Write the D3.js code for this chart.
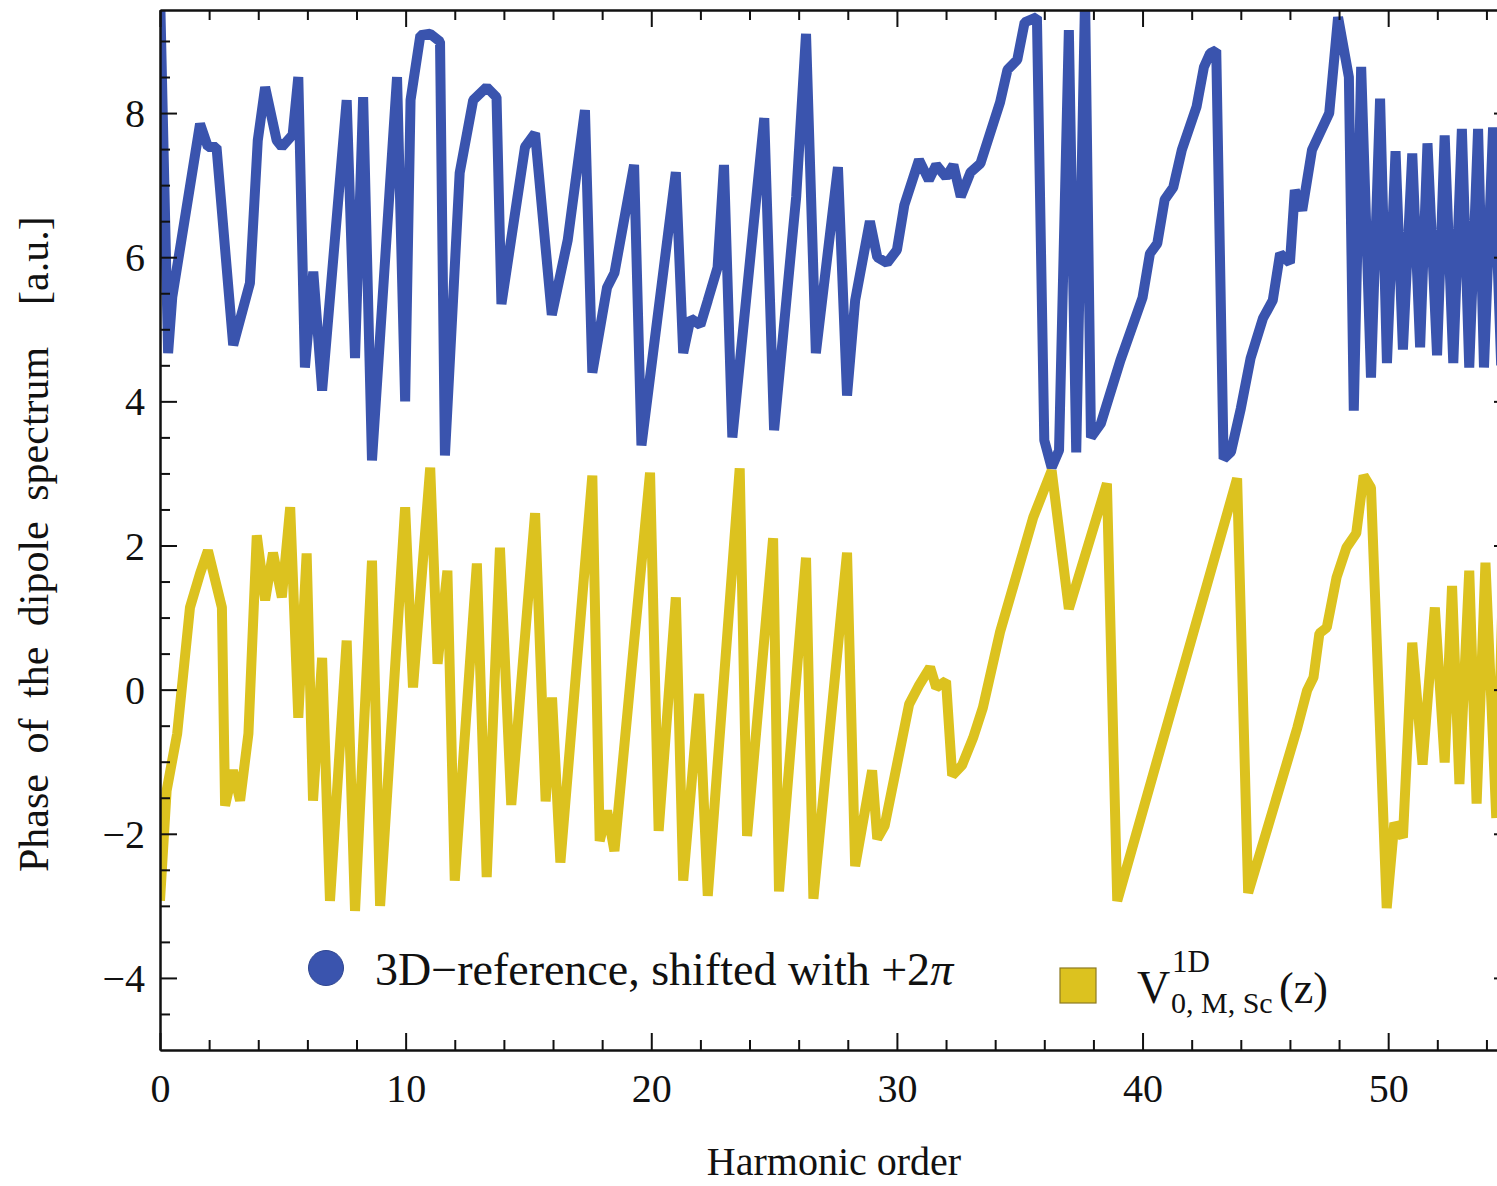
<!DOCTYPE html>
<html>
<head>
<meta charset="utf-8">
<script src="https://cdn.jsdelivr.net/npm/d3@7"></script>
<style>
  html, body { margin: 0; padding: 0; background: #fff; }
  svg { display: block; }
  text { font-family: "Liberation Serif", "Times New Roman", serif; fill: #111; }
</style>
</head>
<body>
<svg id="chart" width="1497" height="1186"></svg>
<script>
// ---------------- data ----------------
const xTicks = [0, 10, 20, 30, 40, 50];
const yTicks = [-4, -2, 0, 2, 4, 6, 8];

const seriesNames = ["3D\u2212reference, shifted with +2", "V"];

// 3D reference (shifted by +2π) — blue
const blueX = [0, 0.33, 0.5, 1.63, 1.95, 2.3, 2.98, 3.66, 3.98, 4.28, 4.75, 4.96, 5.4, 5.63, 5.9, 6.24, 6.6,
  7.6, 7.94, 8.27, 8.63, 9.65, 9.98, 10.2, 10.6, 11.0, 11.4, 11.6, 12.2, 12.75, 13.3, 13.7, 13.9,
  14.86, 15.27, 15.95, 16.6, 17.3, 17.6, 18.2, 18.5, 19.3, 19.6, 21.0, 21.3, 21.6, 22.0, 22.3, 22.7,
  22.96, 23.3, 24.6, 25.0, 25.9, 26.3, 26.7, 27.6, 27.97, 28.3, 28.9, 29.2, 29.6, 30.0, 30.3, 30.9,
  31.3, 31.6, 32.0, 32.3, 32.6, 33.0, 33.4, 34.2, 34.5, 34.9, 35.2, 35.7, 36.0, 36.3, 36.6, 37.0,
  37.3, 37.66, 37.9, 38.3, 39.1, 40.0, 40.3, 40.6, 40.9, 41.25, 41.6, 42.2, 42.5, 42.75, 43.0, 43.3,
  43.6, 44.0, 44.4, 44.9, 45.3, 45.6, 46.0, 46.2, 46.5, 46.9, 47.6, 47.96, 48.4, 48.6, 48.9, 49.3,
  49.67, 49.95, 50.3, 50.6, 50.98, 51.3, 51.6, 51.99, 52.3, 52.65, 53.0, 53.3, 53.66, 53.9, 54.27, 54.6];
const blueY = [9.7, 4.67, 5.45, 7.85, 7.53, 7.53, 4.78, 5.64, 7.62, 8.36, 7.62, 7.53, 7.7, 8.5, 4.47, 5.8, 4.15,
  8.18, 4.6, 8.22, 3.18, 8.5, 4.0, 8.18, 9.08, 9.1, 8.99, 3.25, 7.17, 8.18, 8.36, 8.22, 5.35,
  7.53, 7.72, 5.2, 6.24, 8.04, 4.4, 5.58, 5.78, 7.28, 3.39, 7.18, 4.67, 5.15, 5.06, 5.4, 5.86,
  7.28, 3.5, 7.93, 3.6, 6.84, 9.1, 4.67, 7.25, 4.08, 5.4, 6.5, 6.0, 5.92, 6.1, 6.72, 7.35,
  7.07, 7.28, 7.11, 7.28, 6.84, 7.18, 7.3, 8.15, 8.6, 8.74, 9.26, 9.33, 3.46, 3.08, 3.32, 9.15,
  3.29, 9.6, 3.5, 3.69, 4.57, 5.44, 6.05, 6.19, 6.8, 6.97, 7.49, 8.09, 8.64, 8.83, 8.87, 3.2,
  3.3, 3.9, 4.6, 5.15, 5.4, 6.05, 5.92, 6.93, 6.65, 7.49, 8.0, 9.33, 8.5, 3.87, 8.64, 4.33,
  8.2, 4.53, 7.47, 4.72, 7.44, 4.75, 7.58, 4.64, 7.69, 4.53, 7.78, 4.47, 7.78, 4.47, 7.8, 4.5];

// V^{1D}_{0,M,Sc}(z) — yellow
const yellowX = [0, 0.27, 0.7, 1.22, 1.63, 1.95, 2.52, 2.65, 2.97, 3.26, 3.6, 3.94, 4.28, 4.6, 4.96, 5.3, 5.63,
  5.97, 6.23, 6.6, 6.92, 7.6, 7.94, 8.63, 8.96, 9.98, 10.3, 11.0, 11.3, 11.7, 12.0, 12.9, 13.3,
  13.84, 14.3, 15.27, 15.7, 15.96, 16.3, 17.6, 17.9, 18.2, 18.5, 19.95, 20.3, 21.0, 21.3, 21.95, 22.3,
  23.6, 23.9, 24.96, 25.2, 26.3, 26.6, 27.97, 28.3, 28.99, 29.2, 29.5, 30.5, 30.9, 31.35, 31.6, 32.0,
  32.25, 32.65, 33.1, 33.5, 34.2, 35.55, 36.3, 37.0, 38.55, 38.97, 43.85, 44.3, 45.9, 46.3, 46.7, 46.96,
  47.2, 47.5, 47.9, 48.3, 48.7, 49.0, 49.3, 49.94, 50.25, 50.6, 50.98, 51.4, 51.9, 52.3, 52.6, 52.9,
  53.3, 53.6, 53.96, 54.4, 54.7];
const yellowY = [-2.93, -1.4, -0.61, 1.14, 1.61, 1.93, 1.14, -1.61, -1.12, -1.54, -0.61, 2.14, 1.24, 1.9, 1.28, 2.53, -0.39,
  1.89, -1.54, 0.44, -2.93, 0.68, -3.07, 1.79, -3.0, 2.53, 0.03, 3.08, 0.36, 1.65, -2.65, 1.75, -2.6,
  1.97, -1.6, 2.45, -1.55, -0.11, -2.4, 2.97, -2.1, -1.68, -2.24, 3.01, -1.96, 1.28, -2.65, -0.06, -2.86,
  3.07, -2.03, 2.1, -2.8, 1.83, -2.9, 1.9, -2.45, -1.12, -2.07, -1.89, -0.2, 0.06, 0.31, 0.03, 0.12,
  -1.19, -1.05, -0.67, -0.25, 0.8, 2.39, 3.04, 1.12, 2.86, -2.93, 2.93, -2.82, -0.99, -0.53, -0.01, 0.17,
  0.78, 0.86, 1.56, 1.97, 2.17, 2.97, 2.8, -3.03, -1.85, -2.05, 0.65, -1.04, 1.14, -1.01, 1.44, -1.31,
  1.65, -1.58, 1.76, -1.78, 1.8];

// ---------------- chart ----------------
const BLUE = "#3a54ae";
const YELLOW = "#dcc21f";

const svg = d3.select("#chart");
const mLeft = 160, mRight = 1511, mTop = 10, mBottom = 1050;
const x = d3.scaleLinear().domain([0, 55]).range([mLeft, mRight]);
const y = d3.scaleLinear().domain([-5, 9.43]).range([mBottom, mTop]);

svg.append("defs").append("clipPath").attr("id", "plotclip")
  .append("rect").attr("x", mLeft).attr("y", mTop).attr("width", mRight - mLeft).attr("height", mBottom - mTop);

const line = d3.line().x(d => x(d[0])).y(d => y(d[1]));
const plot = svg.append("g").attr("clip-path", "url(#plotclip)");

const bluePts = blueX.map((v, i) => [v, blueY[i]]);
const yellowPts = yellowX.map((v, i) => [v, yellowY[i]]);

plot.append("path").datum(bluePts).attr("d", line)
  .attr("fill", "none").attr("stroke", BLUE).attr("stroke-width", 10)
  .attr("stroke-linejoin", "bevel");
plot.append("path").datum(yellowPts).attr("d", line)
  .attr("fill", "none").attr("stroke", YELLOW).attr("stroke-width", 10)
  .attr("stroke-linejoin", "bevel");

// ---------------- axes ----------------
const MAJ = 17, MIN = 10;
const xMinor = d3.range(0, 55.01, 2).filter(v => v % 10 !== 0);
const yMinor = d3.range(-5, 9.5, 0.5).filter(v => !yTicks.includes(v) && v > -5);

function styleAxis(g) {
  g.selectAll("path.domain").attr("stroke", "#111").attr("stroke-width", 2);
  g.selectAll(".tick line").attr("stroke", "#111").attr("stroke-width", 2);
}

// bottom
const gB = svg.append("g").attr("transform", `translate(0,${mBottom})`)
  .call(d3.axisBottom(x).tickValues(xTicks).tickSize(-MAJ).tickSizeOuter(0).tickFormat(d3.format("d")));
gB.selectAll("text").attr("y", 52).attr("dy", 0).attr("font-size", 40)
  .attr("font-family", "Liberation Serif").attr("fill", "#111");
styleAxis(gB);
const gBm = svg.append("g").attr("transform", `translate(0,${mBottom})`)
  .call(d3.axisBottom(x).tickValues(xMinor).tickSize(-MIN).tickSizeOuter(0).tickFormat(""));
styleAxis(gBm);

// top
const gT = svg.append("g").attr("transform", `translate(0,${mTop})`)
  .call(d3.axisTop(x).tickValues(xTicks).tickSize(-MAJ).tickSizeOuter(0).tickFormat(""));
styleAxis(gT);
const gTm = svg.append("g").attr("transform", `translate(0,${mTop})`)
  .call(d3.axisTop(x).tickValues(xMinor).tickSize(-MIN).tickSizeOuter(0).tickFormat(""));
styleAxis(gTm);

// left
const gL = svg.append("g").attr("transform", `translate(${mLeft},0)`)
  .call(d3.axisLeft(y).tickValues(yTicks).tickSize(-MAJ).tickSizeOuter(0)
    .tickFormat(d => d < 0 ? "\u2212" + Math.abs(d) : String(d)));
gL.selectAll("text").attr("x", -15).attr("dy", "0.34em").attr("font-size", 40)
  .attr("font-family", "Liberation Serif").attr("fill", "#111").attr("text-anchor", "end");
styleAxis(gL);
const gLm = svg.append("g").attr("transform", `translate(${mLeft},0)`)
  .call(d3.axisLeft(y).tickValues(yMinor).tickSize(-MIN).tickSizeOuter(0).tickFormat(""));
styleAxis(gLm);

// right
const gR = svg.append("g").attr("transform", `translate(${mRight},0)`)
  .call(d3.axisRight(y).tickValues(yTicks).tickSize(-MAJ).tickSizeOuter(0).tickFormat(""));
styleAxis(gR);

// ---------------- titles ----------------
svg.append("text").attr("x", 834).attr("y", 1175).attr("text-anchor", "middle")
  .attr("font-size", 40).text("Harmonic order");

svg.append("text").attr("transform", "translate(48,872) rotate(-90)")
  .attr("font-size", 42).attr("word-spacing", 10).attr("text-anchor", "start")
  .text("Phase of the dipole spectrum");
svg.append("text").attr("transform", "translate(48,305) rotate(-90)")
  .attr("font-size", 42).attr("text-anchor", "start").text("[a.u.]");

// ---------------- legend ----------------
svg.append("circle").attr("cx", 326).attr("cy", 968).attr("r", 17.5)
  .attr("fill", BLUE).attr("stroke", "#2f4690").attr("stroke-width", 1);
const t1 = svg.append("text").attr("x", 375).attr("y", 985).attr("font-size", 46);
t1.append("tspan").text(seriesNames[0]);
t1.append("tspan").attr("font-style", "italic").text("\u03c0");

svg.append("rect").attr("x", 1060).attr("y", 968).attr("width", 36).attr("height", 35)
  .attr("fill", YELLOW).attr("stroke", "#8c7a22").attr("stroke-width", 1.2);
svg.append("text").attr("x", 1137).attr("y", 1003).attr("font-size", 46).text(seriesNames[1]);
svg.append("text").attr("x", 1172).attr("y", 972).attr("font-size", 31).text("1D");
svg.append("text").attr("x", 1171).attr("y", 1013).attr("font-size", 30).text("0, M, Sc");
svg.append("text").attr("x", 1279).attr("y", 1003).attr("font-size", 44).text("(z)");
</script>
</body>
</html>
